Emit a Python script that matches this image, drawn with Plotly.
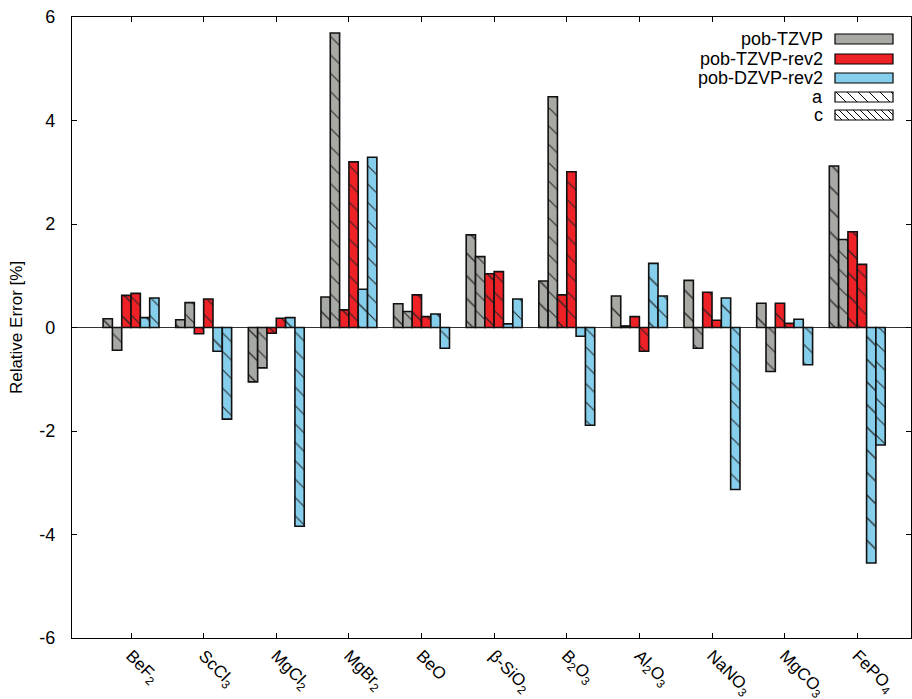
import plotly.graph_objects as go

# ---------------- data ----------------
compounds = ["BeF<sub>2</sub>", "ScCl<sub>3</sub>", "MgCl<sub>2</sub>", "MgBr<sub>2</sub>", "BeO",
             "β-SiO<sub>2</sub>", "B<sub>2</sub>O<sub>3</sub>", "Al<sub>2</sub>O<sub>3</sub>",
             "NaNO<sub>3</sub>", "MgCO<sub>3</sub>", "FePO<sub>4</sub>"]

tzvp_a = [0.17, 0.15, -1.05, 0.59, 0.46, 1.79, 0.90, 0.61, 0.91, 0.47, 3.12]
tzvp_c = [-0.44, 0.48, -0.78, 5.69, 0.31, 1.37, 4.46, 0.03, -0.40, -0.85, 1.70]
rev2_a = [0.62, -0.12, -0.11, 0.34, 0.63, 1.04, 0.63, 0.21, 0.68, 0.47, 1.85]
rev2_c = [0.66, 0.55, 0.18, 3.20, 0.21, 1.08, 3.01, -0.46, 0.14, 0.08, 1.22]
dzvp_a = [0.19, -0.46, 0.19, 0.74, 0.26, 0.07, -0.17, 1.24, 0.57, 0.16, -4.55]
dzvp_c = [0.57, -1.77, -3.84, 3.29, -0.40, 0.55, -1.89, 0.61, -3.13, -0.72, -2.27]

basis_names = ["pob-TZVP", "pob-TZVP-rev2", "pob-DZVP-rev2"]
basis_colors = ["#a7a9a4", "#ee2127", "#86cfec"]
param_names = ["a", "c"]
pattern_sizes = {"a": 16, "c": 13}

yticks = [-6, -4, -2, 0, 2, 4, 6]
yticklabels = ["-6", "-4", "-2", "0", "2", "4", "6"]

series = [
    (tzvp_a, 0, "a"), (tzvp_c, 0, "c"),
    (rev2_a, 1, "a"), (rev2_c, 1, "c"),
    (dzvp_a, 2, "a"), (dzvp_c, 2, "c"),
]

W, H = 912, 699
L, R, T, B = 72, 1, 17, 61
PW, PH = W - L - R, H - T - B

fig = go.Figure()
for vals, bi, p in series:
    fig.add_trace(go.Bar(
        x=compounds, y=vals,
        name=f"{basis_names[bi]} {p}",
        marker=dict(color=basis_colors[bi],
                    line=dict(color="#111111", width=1.6),
                    pattern=dict(shape="\\", size=pattern_sizes[p], solidity=0.09,
                                 fgcolor="#222222", fgopacity=0.9)),
        showlegend=False,
    ))

# ---------------- custom legend (symbol on the right) ----------------
def px2paper(xp, yp):
    return (xp - L) / PW, (H - B - yp) / PH

legend_rows = [39, 59, 78, 97, 115]
box_x0, box_x1, box_h = 835, 893, 10
text_right = 825
shapes = []
annotations = []
labels = basis_names + param_names
fills = basis_colors + ["white", "white"]
for i, (lab, fill, yc) in enumerate(zip(labels, fills, legend_rows)):
    x0, y0 = px2paper(box_x0, yc - box_h / 2)
    x1, y1 = px2paper(box_x1, yc + box_h / 2)
    shapes.append(dict(type="rect", xref="paper", yref="paper", x0=x0, x1=x1, y0=y1, y1=y0,
                       fillcolor=fill, line=dict(color="black", width=1.2), layer="above"))
    if lab in ("a", "c"):
        sp = 11 if lab == "a" else 7
        top, bot = yc - box_h / 2, yc + box_h / 2
        xs = box_x0 - box_h
        while xs < box_x1:
            ax0, ay0, ax1, ay1 = xs, top, xs + box_h, bot
            if ax0 < box_x0:
                ay0 = top + (box_x0 - ax0)
                ax0 = box_x0
            if ax1 > box_x1:
                ay1 = bot - (ax1 - box_x1)
                ax1 = box_x1
            if ax1 > ax0:
                p0 = px2paper(ax0, ay0)
                p1 = px2paper(ax1, ay1)
                shapes.append(dict(type="line", xref="paper", yref="paper",
                                   x0=p0[0], y0=p0[1], x1=p1[0], y1=p1[1],
                                   line=dict(color="black", width=1), layer="above"))
            xs += sp
    tx, ty = px2paper(text_right, yc)
    annotations.append(dict(xref="paper", yref="paper", x=tx, y=ty, text=lab,
                            showarrow=False, xanchor="right", yanchor="middle",
                            font=dict(size=18, color="black")))

fig.update_layout(
    width=W, height=H,
    margin=dict(l=L, r=R, t=T, b=B, autoexpand=False),
    paper_bgcolor="white", plot_bgcolor="white",
    font=dict(family="Liberation Sans, Arial, sans-serif", size=18, color="black"),
    barmode="group", bargap=0.23, bargroupgap=0.0,
    shapes=shapes, annotations=annotations,
    showlegend=False,
)
fig.update_xaxes(
    range=[-0.813, 10.74], showline=True, linecolor="black", linewidth=1.2,
    mirror="allticks", ticks="inside", ticklen=5, tickcolor="black",
    tickangle=45, showgrid=False, zeroline=False, tickfont=dict(size=17),
    ticklabelstandoff=0,
)
fig.update_yaxes(
    range=[-6, 6], tickvals=yticks, ticktext=yticklabels,
    showline=True, linecolor="black", linewidth=1.2,
    mirror="allticks", ticks="inside", ticklen=5, tickcolor="black",
    showgrid=False, zeroline=True, zerolinecolor="#333333", zerolinewidth=1,
    tickfont=dict(size=18), ticklabelstandoff=12,
    title=dict(text="Relative Error [%]", font=dict(size=17), standoff=12),
)

fig.write_html("out.html")
